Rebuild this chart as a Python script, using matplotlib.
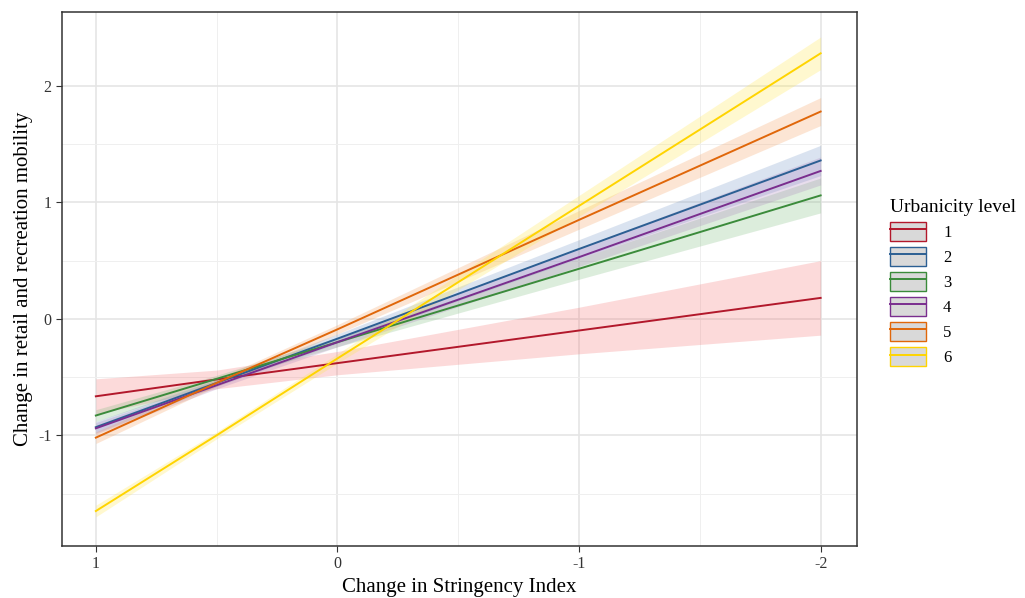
import numpy as np
import matplotlib.pyplot as plt
from matplotlib.patches import Patch
from matplotlib.lines import Line2D

plt.rcParams['font.family'] = ['Liberation Serif', 'DejaVu Serif']

# stringency change values where the fits were read
x = [1, 0.5, 0, -1, -2]
levels = ['1', '2', '3', '4', '5', '6']
colors = ['#B2182B', '#2C5F93', '#3B8B3B', '#7A2E8E', '#E0670A', '#FFD400']
fills = ['#F46D6D', '#6F92C4', '#77B877', '#A77BBA', '#F59A55', '#FFE640']

# fitted mobility change per urbanicity level
fit = {
  '1': [-0.665, -0.52, -0.38, -0.10, 0.18],
  '2': [-0.93, -0.55, -0.17, 0.60, 1.36],
  '3': [-0.83, -0.515, -0.20, 0.43, 1.06],
  '4': [-0.94, -0.57, -0.20, 0.53, 1.27],
  '5': [-1.02, -0.55, -0.09, 0.85, 1.78],
  '6': [-1.65, -1.00, -0.34, 0.97, 2.28],
}
# half width of the confidence band
halfwidth = {
  '1': [0.15, 0.08, 0.10, 0.20, 0.32],
  '2': [0.05, 0.03, 0.04, 0.08, 0.13],
  '3': [0.05, 0.03, 0.04, 0.09, 0.15],
  '4': [0.05, 0.03, 0.04, 0.08, 0.12],
  '5': [0.05, 0.03, 0.04, 0.08, 0.12],
  '6': [0.05, 0.03, 0.04, 0.09, 0.14],
}

fig = plt.figure(figsize=(10.25, 5.98), dpi=100)
ax = fig.add_axes([0.0605, 0.087, 0.7755, 0.893])

for lev, f in zip(levels, fills):
  y = np.array(fit[lev])
  hw = np.array(halfwidth[lev])
  ax.fill_between(x, y - hw, y + hw, color=f, alpha=0.25, lw=0, zorder=2)
for lev, c in zip(levels, colors):
  ax.plot(x, fit[lev], color=c, lw=1.4, zorder=3)

ax.set_xlim(1.14, -2.15)
ax.set_ylim(-1.95, 2.635)
ax.set_xticks([1, 0, -1, -2])
ax.set_xticklabels(['1', '0', '-1', '-2'])
ax.set_yticks([-1, 0, 1, 2])
ax.set_yticklabels(['-1', '0', '1', '2'])
ax.set_xticks([0.5, -0.5, -1.5], minor=True)
ax.set_yticks([-1.5, -0.5, 0.5, 1.5], minor=True)
ax.grid(which='major', color='#E5E5E5', lw=1.2, zorder=0)
ax.grid(which='minor', color='#EFEFEF', lw=0.7, zorder=0)
ax.set_axisbelow(True)
ax.tick_params(which='major', length=4, color='#333333', labelsize=11.5, labelcolor='#333333')
ax.tick_params(which='minor', length=0)
for s in ax.spines.values():
  s.set_color('#333333')
  s.set_linewidth(1.1)

ax.set_xlabel('Change in Stringency Index', fontsize=15)
ax.set_ylabel('Change in retail and recreation mobility', fontsize=15)

handles = [(Patch(facecolor='#D9D9D9', edgecolor=c, lw=1.0), Line2D([], [], color=c, lw=1.4)) for c in colors]
leg = fig.legend(handles, levels, title='Urbanicity level', loc='upper left',
                 bbox_to_anchor=(0.855, 0.69), frameon=False, fontsize=12,
                 title_fontsize=14, handlelength=2.2, handleheight=1.4,
                 labelspacing=0.35, handletextpad=1.0, borderpad=0.3)
leg._legend_box.align = 'left'

fig.savefig('out.png', dpi=100)
